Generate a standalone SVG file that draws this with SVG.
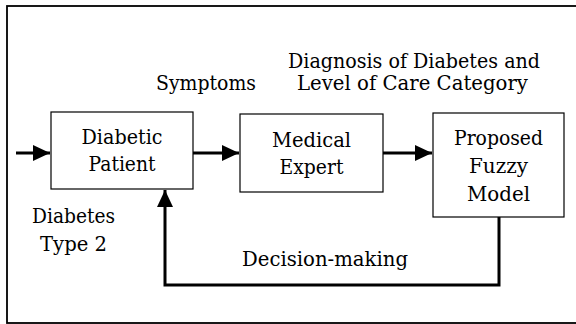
<svg xmlns="http://www.w3.org/2000/svg" width="576" height="324" viewBox="0 0 576 324">
  <style>
    text { font-family: "DejaVu Serif", "Liberation Serif", serif; font-size: 21px; fill: #000; text-anchor: middle; }
    .box { fill: #fff; stroke: #000; stroke-width: 1.2; }
    .wire { fill: none; stroke: #000; stroke-width: 3; }
  </style>
  <defs>
    <marker id="head" markerUnits="userSpaceOnUse" markerWidth="18" markerHeight="18" viewBox="0 0 18 18" refX="17" refY="9" orient="auto">
      <path d="M0,1 L17,9 L0,17 Z" fill="#000"/>
    </marker>
  </defs>

  <!-- outer frame -->
  <rect x="7" y="6" width="572" height="317" fill="#fff" stroke="#000" stroke-width="1.8"/>

  <g id="connectors">
    <line class="wire" x1="16" y1="153" x2="50" y2="153" marker-end="url(#head)"/>
    <line class="wire" x1="193" y1="153" x2="239" y2="153" marker-end="url(#head)"/>
    <line class="wire" x1="383" y1="153" x2="432" y2="153" marker-end="url(#head)"/>
    <polyline class="wire" points="499,217 499,285 165,285 165,190" marker-end="url(#head)"/>
  </g>

  <g id="patient">
    <rect class="box" x="51" y="112" width="142" height="77"/>
    <text x="122" y="144" textLength="81" lengthAdjust="spacingAndGlyphs">Diabetic</text>
    <text x="122" y="171" textLength="67" lengthAdjust="spacingAndGlyphs">Patient</text>
  </g>

  <g id="expert">
    <rect class="box" x="240" y="114" width="143" height="78"/>
    <text x="311.5" y="147" textLength="79" lengthAdjust="spacingAndGlyphs">Medical</text>
    <text x="311.5" y="174" textLength="64" lengthAdjust="spacingAndGlyphs">Expert</text>
  </g>

  <g id="fuzzy-model">
    <rect class="box" x="433" y="113" width="131" height="104"/>
    <text x="498.5" y="145" textLength="89" lengthAdjust="spacingAndGlyphs">Proposed</text>
    <text x="498.5" y="173" textLength="59" lengthAdjust="spacingAndGlyphs">Fuzzy</text>
    <text x="498.5" y="201" textLength="63" lengthAdjust="spacingAndGlyphs">Model</text>
  </g>

  <g id="labels">
    <text x="206" y="90" textLength="100" lengthAdjust="spacingAndGlyphs">Symptoms</text>
    <text x="414" y="68" textLength="252" lengthAdjust="spacingAndGlyphs">Diagnosis of Diabetes and</text>
    <text x="412.5" y="90" textLength="231" lengthAdjust="spacingAndGlyphs">Level of Care Category</text>
    <text x="73.5" y="223" textLength="83" lengthAdjust="spacingAndGlyphs">Diabetes</text>
    <text x="73.5" y="251" textLength="67" lengthAdjust="spacingAndGlyphs">Type 2</text>
    <text x="325" y="266" textLength="166" lengthAdjust="spacingAndGlyphs">Decision-making</text>
  </g>
</svg>
